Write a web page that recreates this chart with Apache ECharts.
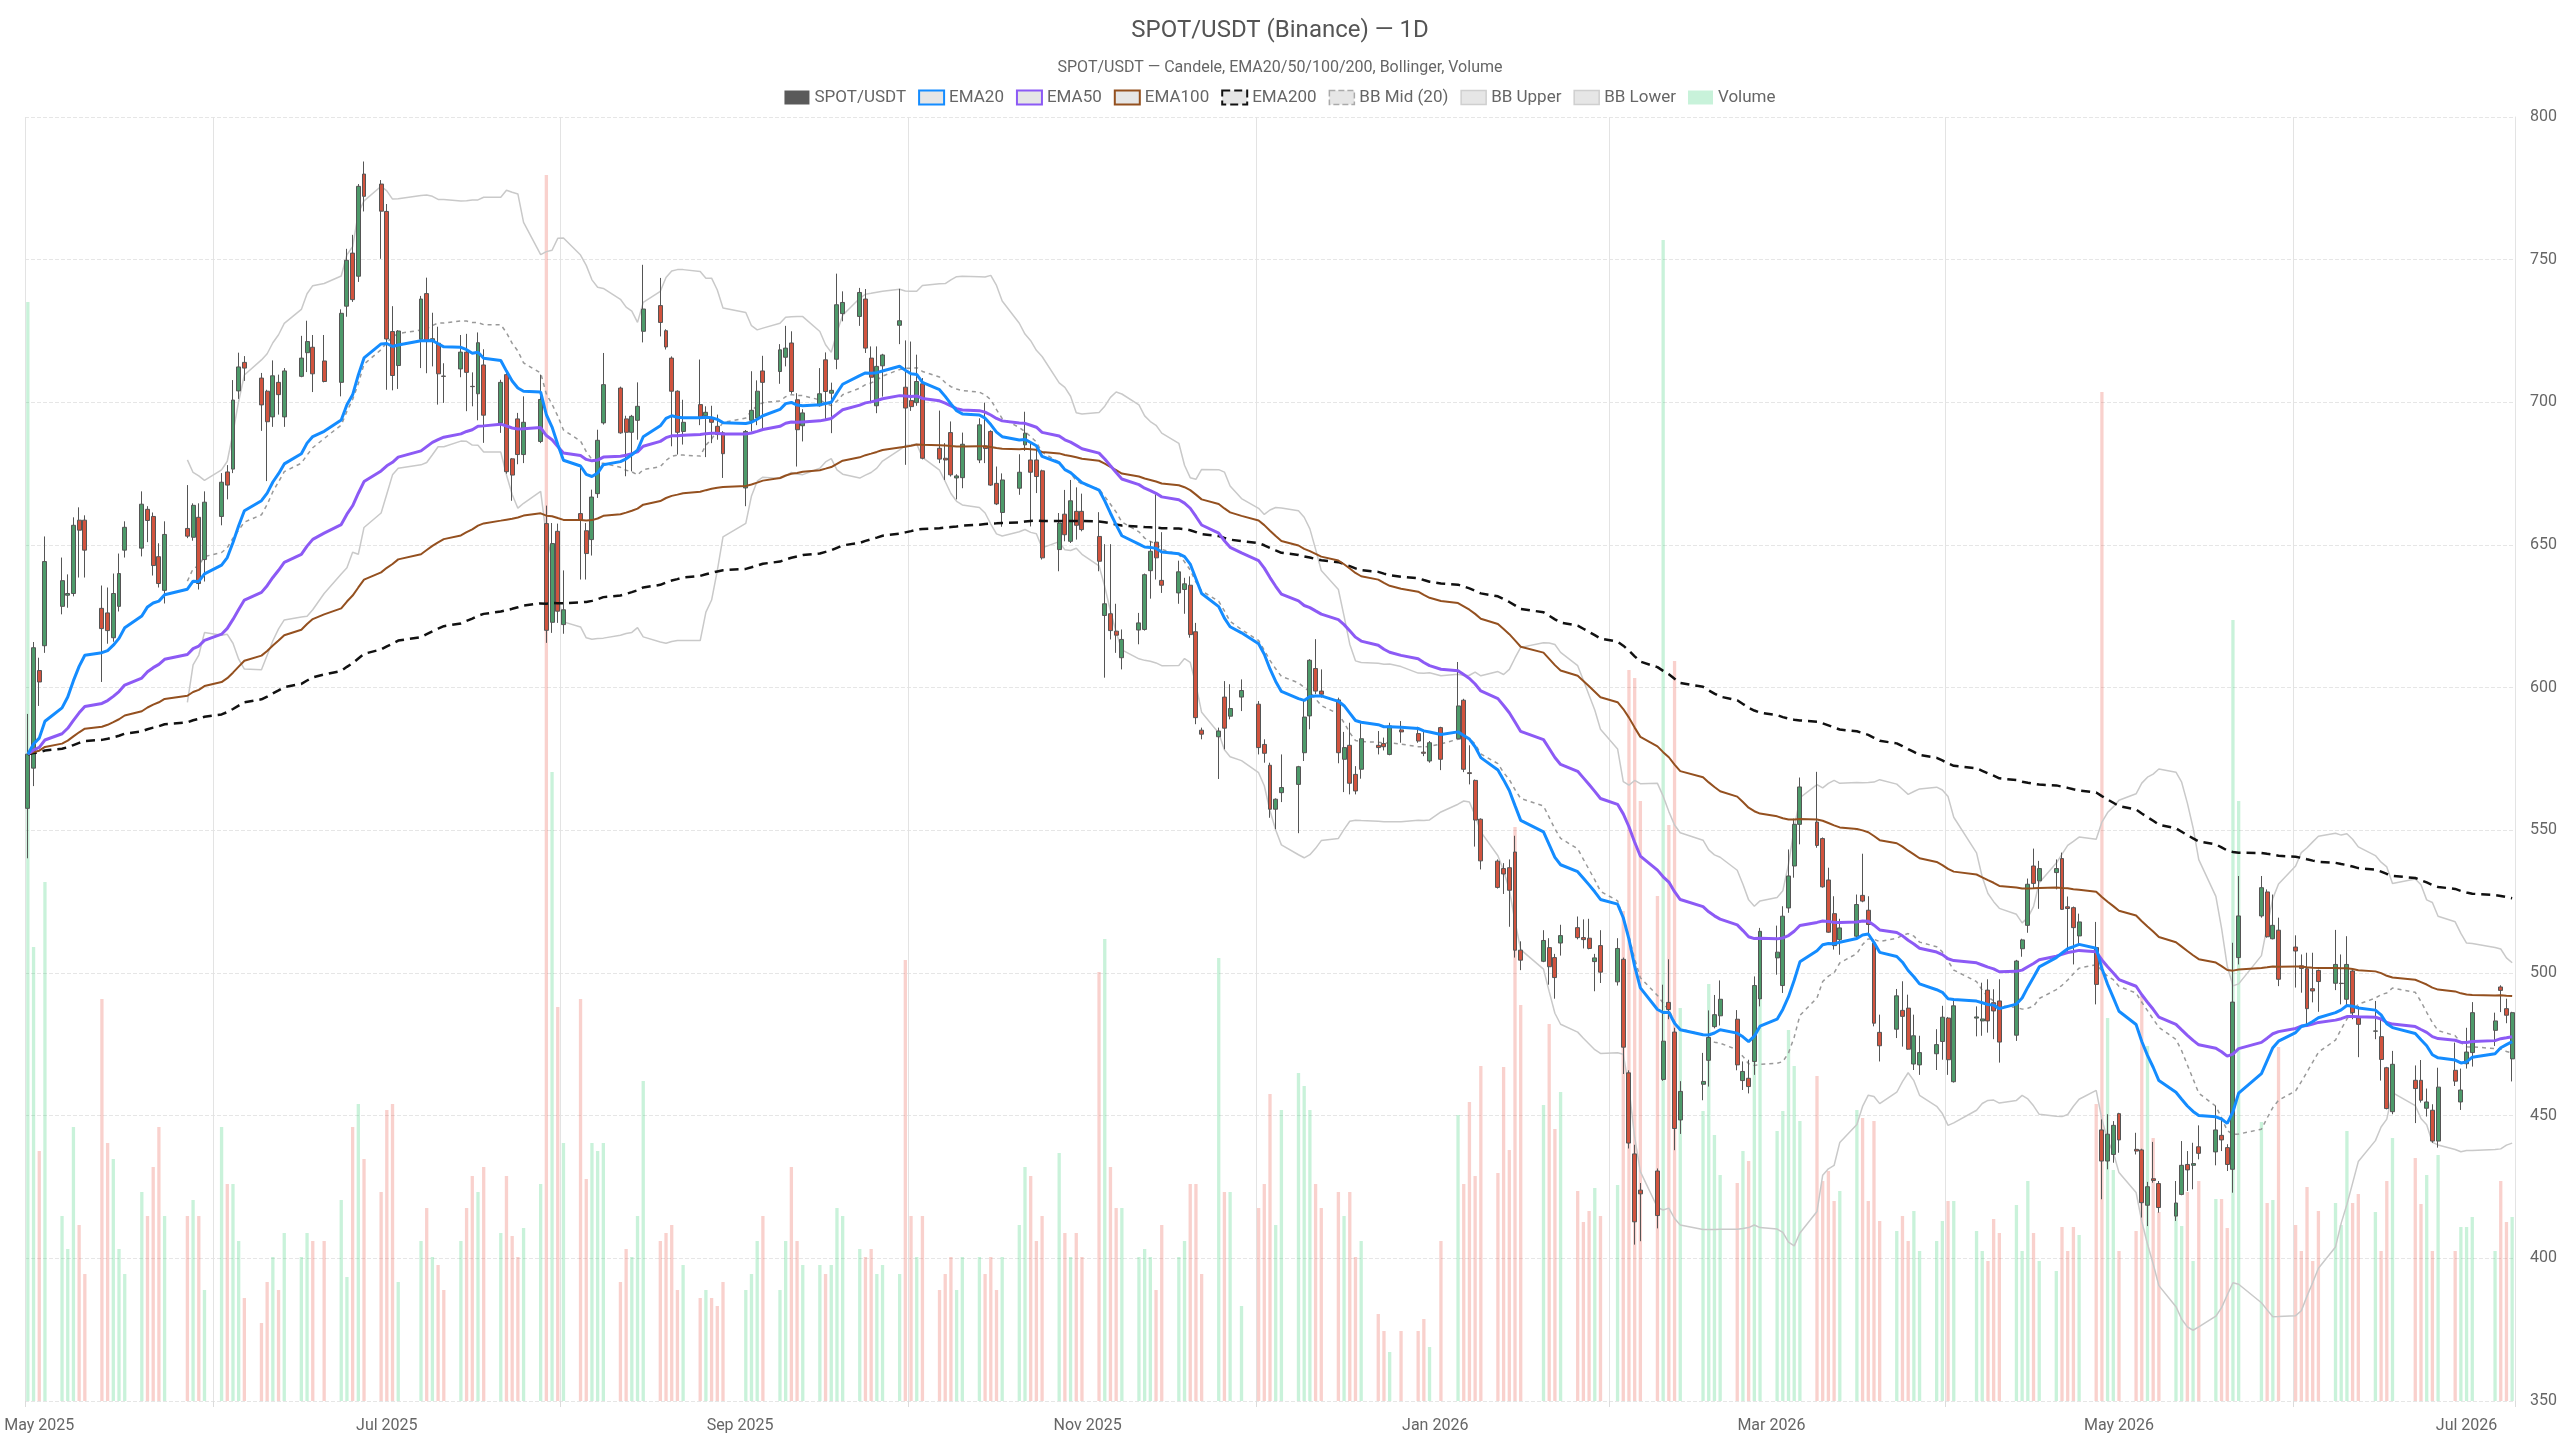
<!DOCTYPE html>
<html>
<head>
<meta charset="utf-8">
<script src="https://cdn.jsdelivr.net/npm/echarts@6/dist/echarts.min.js"></script>
<style>
  html, body { margin: 0; padding: 0; background: #fff; }
  #chart { width: 2560px; height: 1440px; }
</style>
</head>
<body>
<div id="chart"></div>
<script>
// trading calendar: weekdays between these dates, minus exchange holidays
const START = [2025, 3, 29]
const END = [2026, 6, 9]
const HOLIDAYS = ['2025-05-26', '2025-06-19', '2025-07-04', '2025-09-01', '2025-11-27', '2025-12-25',
  '2026-01-01', '2026-01-19', '2026-02-16', '2026-04-03', '2026-05-25', '2026-06-19', '2026-07-03']
const MONTHS = ['Jan', 'Feb', 'Mar', 'Apr', 'May', 'Jun', 'Jul', 'Aug', 'Sep', 'Oct', 'Nov', 'Dec']

// daily bars, one entry per trading day
const OPEN = [
  557.7, 571.8, 606.0, 614.7, 628.5, 632.4, 633.0, 658.7, 658.7, 627.8,
  626.2, 617.5, 628.5, 648.2, 648.9, 662.5, 660.0, 645.9, 634.1, 655.8,
  652.7, 659.7, 644.9, 660.0, 675.6, 676.6, 704.0, 714.0, 708.5, 703.9,
  694.9, 707.0, 694.9, 709.1, 717.4, 719.3, 714.5, 707.0, 733.7, 752.3,
  744.2, 780.0, 776.5, 766.9, 724.8, 712.9, 722.1, 738.1, 721.3, 720.7,
  709.2, 711.7, 717.6, 705.6, 703.0, 713.1, 692.8, 709.7, 680.2, 694.2,
  681.7, 686.3, 657.5, 622.9, 654.8, 622.1, 661.0, 655.0, 651.9, 668.0,
  692.8, 705.0, 694.2, 689.5, 693.7, 724.9, 733.9, 725.1, 715.5, 703.9,
  689.8, 699.2, 695.3, 694.5, 691.6, 689.3, 670.0, 693.7, 694.5, 711.0,
  710.8, 715.8, 720.8, 700.9, 691.8, 698.8, 714.9, 703.2, 715.1, 731.1,
  730.1, 736.2, 715.5, 698.8, 712.8, 727.0, 705.3, 700.6, 699.9, 706.5,
  683.9, 680.4, 689.4, 673.5, 673.6, 679.8, 684.7, 689.8, 671.6, 661.4,
  669.9, 685.1, 679.8, 679.8, 676.0, 648.4, 660.8, 651.3, 661.8, 661.8,
  653.0, 625.3, 625.9, 619.8, 610.5, 620.2, 620.4, 641.0, 651.0, 637.6,
  633.2, 634.4, 635.9, 619.6, 585.1, 582.8, 596.7, 590.0, 596.7, 594.2,
  580.1, 572.8, 557.4, 563.2, 566.1, 577.2, 590.1, 606.7, 598.8, 595.7,
  574.9, 579.8, 569.6, 571.4, 579.8, 580.4, 576.6, 585.2, 583.9, 577.4,
  574.3, 586.0, 582.1, 595.6, 570.2, 567.5, 553.9, 539.2, 536.6, 536.9,
  542.4, 508.0, 504.1, 508.9, 505.4, 510.5, 515.9, 512.4, 512.2, 504.0,
  509.6, 496.9, 504.8, 465.0, 436.6, 423.9, 430.6, 462.7, 489.7, 479.3,
  448.5, 461.0, 469.4, 481.2, 485.0, 483.8, 462.3, 463.1, 469.0, 490.9,
  505.3, 495.6, 522.8, 537.5, 552.1, 552.9, 547.1, 532.6, 520.8, 511.7,
  512.9, 527.2, 522.0, 510.5, 479.2, 480.3, 486.9, 487.7, 468.1, 467.8,
  471.7, 476.0, 484.2, 461.9, 484.2, 483.2, 494.0, 489.6, 490.2, 478.2,
  508.5, 516.7, 537.5, 532.3, 535.2, 540.1, 523.2, 522.9, 513.0, 508.9,
  445.0, 434.1, 436.4, 450.7, 438.2, 438.0, 418.6, 427.9, 426.2, 414.8,
  422.4, 432.9, 432.6, 439.1, 437.3, 443.1, 438.8, 431.2, 505.4, 520.0,
  528.4, 512.0, 515.0, 509.1, 502.5, 501.5, 494.5, 500.9, 496.4, 496.3,
  490.8, 500.7, 484.3, 479.6, 477.7, 466.8, 451.4, 462.4, 462.4, 452.6,
  451.9, 441.1, 465.9, 454.8, 468.2, 472.1, 479.9, 495.1, 487.5, 469.9
]
const CLOSE = [
  576.7, 614.0, 602.0, 644.2, 637.5, 633.0, 656.9, 655.2, 648.2, 620.7,
  620.0, 633.0, 640.0, 656.2, 664.3, 658.6, 642.8, 636.5, 653.7, 653.1,
  663.9, 636.5, 665.0, 672.0, 671.0, 700.8, 712.4, 712.0, 699.1, 693.2,
  709.3, 702.7, 711.0, 715.5, 721.3, 710.0, 707.3, 731.2, 749.8, 736.0,
  775.7, 772.2, 767.0, 722.2, 709.4, 725.0, 736.2, 721.3, 722.3, 710.0,
  709.1, 717.6, 710.5, 705.5, 720.9, 695.5, 707.0, 675.7, 674.5, 681.7,
  693.0, 701.0, 620.1, 650.5, 626.8, 627.3, 658.6, 647.0, 666.8, 686.7,
  706.2, 689.3, 689.5, 695.1, 698.6, 732.7, 728.0, 719.4, 703.9, 689.5,
  693.0, 694.5, 696.5, 693.0, 688.7, 682.0, 689.8, 697.2, 703.9, 707.0,
  718.4, 719.0, 703.8, 690.4, 696.3, 703.0, 703.8, 704.2, 734.2, 735.0,
  738.5, 719.0, 708.8, 712.6, 716.6, 728.6, 698.0, 698.5, 707.3, 680.4,
  680.1, 679.8, 674.6, 674.2, 685.3, 692.1, 683.8, 671.0, 664.4, 672.8,
  675.5, 689.2, 675.5, 674.0, 645.5, 657.7, 653.6, 665.5, 656.9, 655.4,
  644.3, 629.4, 620.0, 618.4, 616.9, 622.7, 639.6, 647.8, 645.5, 635.9,
  640.6, 636.4, 618.6, 589.5, 583.7, 584.8, 585.8, 592.7, 599.0, 579.0,
  577.0, 557.4, 560.9, 565.0, 572.3, 589.7, 609.6, 598.8, 597.7, 577.2,
  579.0, 566.5, 563.8, 582.1, 579.0, 579.3, 586.6, 584.5, 581.3, 577.0,
  580.7, 574.9, 593.6, 571.4, 569.9, 553.6, 539.3, 530.0, 534.7, 529.0,
  508.0, 504.5, 511.4, 502.2, 498.4, 513.1, 512.4, 511.7, 508.6, 505.3,
  500.3, 508.6, 474.0, 440.4, 412.8, 422.6, 415.0, 476.1, 487.2, 445.5,
  458.5, 462.0, 477.4, 485.4, 490.8, 467.8, 465.5, 460.2, 495.6, 514.6,
  507.3, 519.9, 534.0, 552.1, 565.2, 544.7, 530.2, 514.3, 509.6, 515.8,
  524.0, 525.2, 517.0, 482.4, 474.5, 492.0, 484.8, 473.3, 478.0, 472.1,
  474.9, 484.5, 469.6, 488.5, 484.6, 483.9, 483.2, 486.7, 475.8, 504.2,
  511.6, 531.1, 531.4, 536.6, 536.6, 522.3, 522.6, 515.9, 517.9, 496.0,
  434.1, 443.5, 446.6, 441.5, 437.6, 419.5, 425.1, 427.3, 417.8, 419.4,
  432.6, 431.0, 433.2, 436.8, 445.0, 441.5, 432.9, 489.8, 520.0, 529.9,
  512.7, 516.7, 497.8, 507.7, 501.6, 487.5, 493.7, 497.0, 503.0, 496.4,
  503.0, 486.1, 482.0, 479.7, 469.7, 452.5, 468.0, 459.5, 455.4, 454.8,
  441.1, 460.0, 462.1, 459.0, 472.3, 486.1, 483.2, 493.9, 485.2, 486.1
]
const LOW = [
  540.2, 565.5, 593.6, 612.2, 625.7, 628.0, 632.0, 638.6, 638.6, 602.0,
  615.4, 616.1, 626.7, 645.6, 646.0, 651.0, 639.3, 635.1, 629.5, 652.4,
  651.5, 634.4, 637.2, 656.9, 666.0, 675.2, 701.2, 707.5, 690.0, 672.4,
  691.4, 695.7, 691.4, 708.8, 710.6, 703.6, 707.0, 702.1, 730.0, 735.2,
  742.2, 766.9, 750.3, 704.4, 704.2, 704.7, 712.0, 710.2, 712.6, 699.2,
  699.8, 708.8, 696.9, 698.6, 693.7, 685.8, 689.3, 675.0, 665.5, 678.3,
  678.7, 685.7, 615.7, 619.2, 622.7, 618.9, 637.9, 637.9, 646.3, 666.5,
  692.2, 689.0, 674.1, 675.8, 686.9, 721.0, 723.1, 718.5, 684.6, 681.7,
  685.2, 692.0, 680.8, 685.7, 686.9, 673.5, 663.6, 689.8, 692.0, 690.4,
  706.5, 712.6, 703.0, 677.5, 686.3, 698.5, 693.9, 689.2, 711.6, 728.4,
  726.8, 717.3, 699.7, 696.2, 702.0, 720.4, 678.1, 697.0, 698.8, 680.0,
  678.7, 672.8, 674.0, 666.0, 669.9, 678.7, 678.7, 670.7, 664.0, 656.4,
  667.6, 683.0, 656.5, 668.2, 644.9, 640.8, 651.3, 650.7, 651.9, 654.8,
  640.8, 603.5, 616.9, 612.2, 606.4, 615.2, 620.0, 631.2, 637.9, 633.2,
  629.4, 625.9, 617.5, 587.2, 581.9, 568.0, 578.4, 588.9, 591.8, 576.6,
  573.7, 554.4, 550.4, 559.9, 549.0, 574.3, 585.4, 597.7, 596.5, 573.5,
  563.4, 562.6, 562.6, 568.1, 576.6, 578.0, 576.3, 580.7, 580.7, 576.0,
  573.7, 571.1, 582.0, 570.4, 566.1, 544.3, 536.3, 529.6, 527.7, 516.2,
  505.4, 501.0, 503.8, 495.9, 491.0, 506.1, 511.8, 508.6, 508.3, 493.6,
  496.5, 495.6, 464.6, 438.5, 404.8, 406.0, 410.5, 462.2, 483.8, 437.9,
  443.6, 455.4, 460.2, 480.6, 481.6, 465.9, 459.0, 457.8, 464.3, 488.3,
  499.4, 493.0, 521.1, 533.4, 545.1, 543.9, 529.9, 514.1, 508.2, 506.4,
  512.0, 524.8, 513.1, 481.3, 469.0, 477.2, 474.2, 473.1, 466.0, 464.3,
  466.0, 469.6, 464.3, 461.6, 477.8, 478.0, 479.1, 476.8, 468.6, 476.2,
  505.7, 514.1, 529.6, 522.5, 529.3, 522.1, 507.1, 503.0, 509.7, 489.0,
  420.7, 431.2, 433.5, 437.0, 436.4, 414.3, 411.3, 426.5, 416.0, 413.1,
  422.1, 423.6, 424.2, 434.7, 432.6, 437.6, 430.6, 423.0, 503.0, 519.4,
  512.4, 511.8, 495.4, 494.9, 493.1, 481.4, 489.7, 486.4, 494.0, 489.0,
  488.4, 483.8, 470.5, 476.8, 462.3, 452.2, 450.5, 447.4, 454.6, 449.7,
  440.5, 438.8, 460.4, 452.0, 466.5, 467.2, 474.4, 486.3, 482.4, 462.0
]
const HIGH = [
  590.8, 616.0, 610.5, 653.0, 645.6, 639.7, 659.7, 663.2, 660.4, 635.8,
  635.1, 640.0, 647.0, 658.3, 668.8, 663.6, 661.4, 650.6, 658.3, 671.0,
  664.6, 664.6, 668.8, 675.2, 678.0, 707.8, 717.4, 716.2, 710.3, 704.4,
  714.7, 709.7, 712.0, 723.3, 728.6, 723.6, 723.6, 732.6, 753.8, 758.7,
  776.5, 784.4, 777.9, 769.5, 733.7, 725.3, 737.3, 743.7, 731.4, 726.5,
  713.7, 723.6, 724.0, 710.5, 724.5, 718.6, 707.9, 710.5, 680.5, 696.3,
  702.1, 709.7, 663.8, 657.7, 657.5, 641.1, 677.6, 657.7, 669.4, 690.4,
  717.3, 705.5, 695.3, 695.6, 707.0, 748.2, 743.6, 725.6, 716.1, 704.2,
  700.9, 715.0, 698.6, 698.8, 695.7, 689.9, 690.3, 710.9, 707.7, 716.3,
  720.4, 726.8, 724.9, 703.2, 697.6, 712.0, 717.5, 706.9, 745.1, 738.9,
  740.1, 739.7, 719.6, 719.6, 717.0, 739.8, 721.7, 721.3, 716.7, 708.5,
  697.1, 685.7, 693.3, 674.8, 689.4, 694.4, 699.9, 690.2, 677.5, 675.1,
  681.8, 696.7, 685.7, 684.8, 676.4, 661.2, 669.3, 672.8, 670.2, 668.0,
  661.5, 650.3, 650.3, 629.4, 620.4, 626.2, 640.0, 651.3, 667.8, 654.5,
  644.5, 638.5, 639.0, 622.7, 586.0, 586.0, 602.3, 601.2, 602.9, 595.3,
  581.9, 573.7, 561.2, 576.6, 572.6, 595.9, 610.0, 617.0, 606.4, 596.5,
  584.5, 587.7, 572.5, 587.5, 584.8, 582.5, 587.7, 588.3, 586.3, 584.5,
  581.3, 586.3, 609.0, 596.1, 579.8, 567.8, 554.2, 539.8, 538.5, 539.8,
  548.1, 511.1, 515.0, 512.2, 506.7, 516.9, 519.8, 518.8, 519.0, 506.7,
  515.0, 512.2, 505.4, 465.9, 439.8, 426.4, 431.5, 495.9, 504.8, 480.8,
  462.1, 472.0, 486.9, 492.3, 497.4, 487.0, 469.0, 469.6, 498.8, 515.8,
  516.6, 523.4, 543.3, 554.1, 568.5, 570.5, 547.5, 536.9, 526.9, 519.0,
  527.5, 541.8, 526.9, 511.7, 485.4, 494.4, 497.1, 492.4, 485.4, 478.0,
  480.3, 488.5, 484.6, 490.6, 488.3, 496.6, 497.8, 494.3, 497.8, 504.6,
  512.0, 533.1, 543.6, 539.3, 539.8, 542.2, 526.8, 523.3, 520.8, 517.9,
  448.7, 450.5, 448.1, 451.0, 444.0, 438.4, 426.8, 440.8, 427.1, 427.1,
  441.1, 437.6, 440.5, 446.6, 453.4, 449.3, 440.0, 510.6, 534.0, 534.0,
  529.3, 527.5, 519.4, 513.2, 506.5, 507.1, 507.1, 501.2, 515.1, 506.5,
  512.9, 501.0, 488.4, 490.2, 483.8, 467.1, 472.7, 467.6, 469.5, 459.5,
  454.0, 466.8, 475.6, 466.5, 480.8, 489.8, 486.1, 495.7, 491.0, 486.4
]
// volume, in thousands
const VOLUME = [
  1099, 454, 250, 519, 185, 152, 274, 176, 127, 402,
  258, 242, 152, 127, 209, 185, 234, 274, 185, 185,
  201, 185, 111, 274, 217, 217, 160, 103, 78, 119,
  144, 111, 168, 144, 168, 160, 160, 201, 124, 274,
  297, 242, 209, 291, 297, 119, 160, 193, 144, 136,
  111, 160, 193, 225, 209, 234, 168, 225, 165, 144,
  173, 217, 1226, 629, 394, 258, 402, 222, 258, 250,
  258, 119, 152, 144, 185, 320, 160, 168, 176, 111,
  136, 103, 111, 103, 95, 119, 111, 127, 160, 185,
  111, 160, 234, 160, 136, 136, 127, 136, 193, 185,
  152, 144, 152, 127, 136, 127, 441, 185, 144, 185,
  111, 127, 144, 111, 144, 144, 127, 144, 111, 144,
  176, 234, 225, 160, 185, 248, 168, 144, 168, 144,
  429, 462, 234, 193, 193, 144, 152, 144, 111, 176,
  144, 160, 217, 217, 127, 443, 209, 209, 95, 193,
  217, 307, 176, 291, 328, 315, 291, 217, 193, 209,
  185, 209, 144, 160, 87, 70, 49, 70, 70, 82,
  54, 160, 286, 217, 299, 225, 335, 228, 334, 251,
  574, 396, 296, 377, 272, 309, 210, 179, 190, 213,
  185, 216, 490, 731, 723, 600, 505, 1161, 576, 740,
  393, 290, 417, 266, 226, 218, 250, 240, 409, 401,
  270, 290, 371, 335, 280, 325, 220, 230, 200, 210,
  291, 283, 200, 280, 180, 170, 185, 160, 190, 150,
  160, 180, 200, 200, 170, 150, 140, 182, 168, 196,
  150, 220, 168, 140, 130, 174, 150, 174, 166, 297,
  1009, 383, 231, 150, 170, 405, 355, 263, 189, 186,
  175, 209, 140, 220, 202, 202, 173, 781, 600, 279,
  198, 201, 354, 176, 150, 214, 140, 190, 198, 176,
  270, 198, 207, 189, 150, 220, 263, 243, 197, 226,
  150, 246, 150, 174, 174, 184, 150, 220, 179, 184
]

// calendar axis: every day, weekends/holidays left empty
const days = []
const tradeIndex = {}
let n = 0
for (let t = Date.UTC(...START); t <= Date.UTC(...END); t += 86400000) {
  const d = new Date(t)
  const s = d.toISOString().slice(0, 10)
  days.push(s)
  const wd = d.getUTCDay()
  if (wd !== 0 && wd !== 6 && !HOLIDAYS.includes(s)) tradeIndex[s] = n++
}

const ema = (src, period) => {
  const k = 2 / (period + 1)
  const out = []
  src.forEach((v, i) => out.push(i === 0 ? v : v * k + out[i - 1] * (1 - k)))
  return out
}

const bollinger = (src, period, mult) => {
  const mid = [], up = [], low = []
  src.forEach((v, i) => {
    if (i < period - 1) { mid.push(null); up.push(null); low.push(null); return }
    const win = src.slice(i - period + 1, i + 1)
    const m = win.reduce((a, b) => a + b, 0) / period
    const sd = Math.sqrt(win.reduce((a, b) => a + (b - m) * (b - m), 0) / period)
    mid.push(m); up.push(m + mult * sd); low.push(m - mult * sd)
  })
  return { mid, up, low }
}

const toDays = (arr) => days.map(s => {
  const i = tradeIndex[s]
  return i === undefined || arr[i] == null ? '-' : +arr[i].toFixed(2)
})

const bb = bollinger(CLOSE, 20, 2)

const candles = days.map(s => {
  const i = tradeIndex[s]
  return i === undefined ? ['-', '-', '-', '-'] : [OPEN[i], CLOSE[i], LOW[i], HIGH[i]]
})

const volumes = days.map(s => {
  const i = tradeIndex[s]
  if (i === undefined) return '-'
  const up = CLOSE[i] >= OPEN[i]
  return { value: VOLUME[i], itemStyle: { color: up ? 'rgba(46,204,113,0.26)' : 'rgba(231,76,60,0.26)' } }
})

const monthStart = (val, odd) => {
  const [y, m, d] = val.split('-')
  return d === '01' && (parseInt(m, 10) % 2 === (odd ? 1 : 0))
}

const lineSeries = (name, data, style, z) => ({
  name,
  type: 'line',
  data,
  symbol: 'none',
  connectNulls: true,
  silent: true,
  z,
  lineStyle: style
})

const legendFill = '#e6e6e6'

const chart = echarts.init(document.getElementById('chart'))

chart.setOption({
  animation: false,
  backgroundColor: '#fff',
  textStyle: { fontFamily: 'Roboto, sans-serif' },
  title: [
    {
      text: 'SPOT/USDT (Binance) — 1D',
      left: 'center',
      top: 14,
      textStyle: { fontSize: 24, fontWeight: 'normal', color: '#555' }
    },
    {
      text: 'SPOT/USDT — Candele, EMA20/50/100/200, Bollinger, Volume',
      left: 'center',
      top: 55,
      textStyle: { fontSize: 16, fontWeight: 'normal', color: '#666' }
    }
  ],
  legend: {
    top: 84,
    left: 'center',
    itemWidth: 25,
    itemHeight: 14,
    itemGap: 12,
    selectedMode: false,
    textStyle: { color: '#666', fontSize: 17 },
    data: [
      { name: 'SPOT/USDT', icon: 'rect', itemStyle: { color: '#5a5a5a', borderWidth: 0 } },
      { name: 'EMA20', icon: 'rect', itemStyle: { color: legendFill, borderColor: '#148cff', borderWidth: 2 } },
      { name: 'EMA50', icon: 'rect', itemStyle: { color: legendFill, borderColor: '#8c5af5', borderWidth: 2 } },
      { name: 'EMA100', icon: 'rect', itemStyle: { color: legendFill, borderColor: '#94501f', borderWidth: 2 } },
      { name: 'EMA200', icon: 'rect', itemStyle: { color: legendFill, borderColor: '#111', borderWidth: 2, borderType: 'dashed' } },
      { name: 'BB Mid (20)', icon: 'rect', itemStyle: { color: legendFill, borderColor: '#aaa', borderWidth: 1.5, borderType: 'dashed' } },
      { name: 'BB Upper', icon: 'rect', itemStyle: { color: legendFill, borderColor: '#cfcfcf', borderWidth: 1.5 } },
      { name: 'BB Lower', icon: 'rect', itemStyle: { color: legendFill, borderColor: '#cfcfcf', borderWidth: 1.5 } },
      { name: 'Volume', icon: 'rect', itemStyle: { color: '#c8f2da', borderWidth: 0 } }
    ]
  },
  grid: { left: 25, right: 45, top: 117, bottom: 39 },
  xAxis: {
    type: 'category',
    data: days,
    boundaryGap: true,
    axisLine: { show: false },
    axisTick: {
      show: true,
      length: 6,
      interval: (idx, val) => idx === 0 || monthStart(val, false),
      lineStyle: { color: '#dcdcdc' }
    },
    axisLabel: {
      interval: (idx, val) => monthStart(val, true),
      formatter: (val) => {
        const [y, m] = val.split('-')
        return MONTHS[parseInt(m, 10) - 1] + ' ' + y
      },
      color: '#666',
      fontSize: 16,
      margin: 17
    },
    splitLine: {
      show: true,
      interval: (idx, val) => idx === 0 || monthStart(val, false),
      lineStyle: { color: '#e3e3e3', width: 1 }
    }
  },
  yAxis: [
    {
      type: 'value',
      position: 'right',
      min: 350,
      max: 800,
      interval: 50,
      axisLine: { show: true, lineStyle: { color: '#e3e3e3' } },
      axisTick: { show: false },
      axisLabel: { color: '#666', fontSize: 16, margin: 15 },
      splitLine: { lineStyle: { color: '#e6e6e6', type: 'dashed' } }
    },
    {
      type: 'value',
      min: 0,
      max: 1284,
      show: false
    }
  ],
  series: [
    {
      name: 'Volume',
      type: 'bar',
      yAxisIndex: 1,
      data: volumes,
      barWidth: '58%',
      silent: true,
      z: 1
    },
    lineSeries('BB Upper', toDays(bb.up), { color: '#c9c9c9', width: 1.5 }, 2),
    lineSeries('BB Lower', toDays(bb.low), { color: '#c9c9c9', width: 1.5 }, 2),
    lineSeries('BB Mid (20)', toDays(bb.mid), { color: '#999', width: 1.5, type: [4, 4] }, 2),
    {
      name: 'SPOT/USDT',
      type: 'candlestick',
      data: candles,
      barWidth: '78%',
      z: 3,
      itemStyle: {
        color: '#4d9a6a',
        color0: '#d1533e',
        borderColor: '#555',
        borderColor0: '#555',
        borderWidth: 1
      }
    },
    lineSeries('EMA200', toDays(ema(CLOSE, 200)), { color: '#111', width: 2.5, type: [9, 6] }, 4),
    lineSeries('EMA100', toDays(ema(CLOSE, 100)), { color: '#94501f', width: 2 }, 4),
    lineSeries('EMA50', toDays(ema(CLOSE, 50)), { color: '#8c5af5', width: 3 }, 4),
    lineSeries('EMA20', toDays(ema(CLOSE, 20)), { color: '#148cff', width: 3 }, 4)
  ]
})
</script>
</body>
</html>
